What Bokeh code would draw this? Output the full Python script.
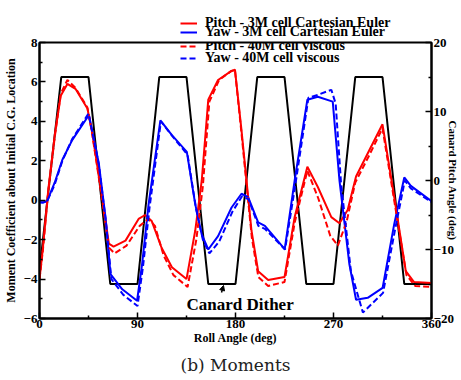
from bokeh.plotting import figure
from bokeh.layouts import column
from bokeh.models import (Range1d, LinearAxis, Legend, LegendItem, Label, Title,
                          FixedTicker, Arrow, NormalHead)
from bokeh.embed import file_html
from bokeh.resources import INLINE

# ---------------- data ----------------
pitch3m_roll = [0, 3, 8, 14, 19.5, 25.6, 33, 44, 48, 57.6, 63.7, 68, 79, 91, 97, 103, 112, 121.6, 135,
                143, 149, 155, 164, 176, 179.5, 185.5, 194.7, 200.8, 210, 225, 234.3, 246, 255.6, 268,
                275.5, 283, 290.7, 303, 315, 325.8, 336.4, 344, 360]
pitch3m_val = [-4.0, -2.5, 0.5, 3.3, 5.3, 5.9, 5.65, 4.65, 3.55, 0.15, -2.2, -2.35, -2.05, -0.95, -0.75,
               -1.05, -2.4, -3.4, -4.0, -1.55, 1.0, 5.1, 6.1, 6.55, 6.62, 3.56, -1.55, -3.6, -4.05, -3.9,
               -0.86, 1.7, 0.67, -0.86, -1.17, -0.5, 1.2, 2.55, 3.85, 0.15, -3.6, -4.15, -4.2]

pitch40m_roll = [0, 3, 8, 14, 19.5, 25.6, 33, 44, 48, 57.6, 63.7, 69, 80, 92, 100, 106, 114, 123, 136,
                 144, 150, 156, 165, 176, 179.5, 185.5, 195, 201, 210, 225, 234.5, 246, 256, 267, 274,
                 282, 290, 303, 315, 326, 337, 345, 360]
pitch40m_val = [-4.0, -2.6, 0.4, 3.2, 5.4, 6.1, 5.7, 4.7, 3.5, 0.0, -2.4, -2.7, -2.3, -1.3, -0.95, -1.3,
                -2.8, -3.8, -4.4, -2.0, 0.7, 5.0, 6.1, 6.55, 6.6, 3.4, -1.9, -3.9, -4.35, -4.15, -1.1,
                1.5, 0.1, -1.8, -2.3, -1.1, 0.9, 2.3, 3.65, -0.1, -3.8, -4.35, -4.4]

yaw3m_roll = [0, 3, 7, 14, 21, 30, 45.4, 54.5, 60.6, 65.2, 76, 89.6, 94.2, 100.2, 111, 121.6, 135.3, 143,
              149, 155, 164, 176.4, 185.5, 191.7, 200.8, 207, 225.2, 234.3, 246, 255.6, 269.3, 275.5,
              284.6, 290.7, 301.4, 315.1, 325.8, 335, 341, 360]
yaw3m_val = [-0.1, -0.12, -0.05, 0.9, 2.05, 3.05, 4.32, 1.86, -0.86, -3.75, -4.52, -5.1, -3.25, -0.2,
             4.05, 3.3, 2.45, -0.2, -1.74, -2.5, -1.82, -0.37, 0.33, 0.15, -1.12, -1.3, -2.48, 0.99,
             5.1, 5.25, 5.0, 0.99, -3.25, -5.05, -4.95, -4.45, -1.2, 1.16, 0.73, -0.05]

yaw40m_roll = [0, 3, 7, 14, 21, 30, 45, 54.5, 61, 66, 77, 90, 95, 101, 111.5, 122, 136, 144, 150,
               156, 165, 177, 186, 192, 201, 207, 225.5, 235, 247, 256, 268, 272, 277, 286, 297,
               315.5, 326.5, 335.5, 341, 360]
yaw40m_val = [-0.1, -0.12, -0.05, 0.8, 2.0, 3.1, 4.4, 1.8, -1.1, -4.0, -4.8, -5.37, -3.4, -0.4, 4.0,
              3.25, 2.3, -0.5, -2.0, -2.7, -2.1, -0.6, 0.2, 0.05, -1.3, -1.45, -2.5, 0.8, 5.2, 5.35,
              5.6, 4.9, 0.8, -3.6, -5.7, -4.7, -1.5, 1.0, 0.6, -0.1]

canard_roll = [0, 20, 45, 65, 90, 110, 135, 155, 180, 200, 225, 245, 270, 290, 315, 335, 360]
canard_deg = [-13, 15, 15, -15, -15, 15, 15, -15, -15, 15, 15, -15, -15, 15, 15, -15, -15]

x_ticks = [0, 90, 180, 270, 360]
y_ticks = [-6, -4, -2, 0, 2, 4, 6, 8]
y2_ticks = [-20, -10, 0, 10, 20]

FONT = "Liberation Serif"
RED = "#ff0000"
BLUE = "#0000ff"
HEAD_H = 37

p = figure(width=461, height=380 - HEAD_H, output_backend="svg", toolbar_location=None,
           x_range=Range1d(0, 360), y_range=Range1d(-6, 8),
           min_border_left=37, min_border_right=30, min_border_top=42 - HEAD_H,
           min_border_bottom=62)
p.extra_y_ranges = {"canard": Range1d(-20, 20)}
p.grid.visible = False
p.outline_line_color = "black"
p.outline_line_width = 2
p.background_fill_color = "white"
p.border_fill_color = "white"

def style_axis(ax, ticks, minor):
    ax.ticker = FixedTicker(ticks=ticks, minor_ticks=minor)
    ax.major_tick_in = 6
    ax.major_tick_out = 0
    ax.minor_tick_in = 3
    ax.minor_tick_out = 0
    ax.major_tick_line_width = 1.5
    ax.minor_tick_line_width = 1.5
    ax.axis_line_width = 2
    ax.major_label_text_font = FONT
    ax.major_label_text_font_style = "bold"
    ax.major_label_text_font_size = "13px"
    ax.major_label_text_color = "black"
    ax.axis_label_text_font = FONT
    ax.axis_label_text_font_style = "bold"
    ax.axis_label_text_font_size = "12px"
    ax.axis_label_text_color = "black"

xa = p.xaxis[0]
style_axis(xa, x_ticks, [45, 135, 225, 315])
xa.axis_label = "Roll Angle (deg)"
xa.major_label_standoff = 1
xa.axis_label_standoff = 0

ya = p.yaxis[0]
style_axis(ya, y_ticks, [-5, -3, -1, 1, 3, 5, 7])
ya.axis_label = "Moment Coefficient about Initial C.G. Location"
ya.major_label_standoff = 2
ya.axis_label_standoff = 3

y2 = LinearAxis(y_range_name="canard")
style_axis(y2, y2_ticks, [-15, -5, 5, 15])
y2.major_label_standoff = 2
y2.axis_label = "Canard Pitch Angle (deg)"
y2.axis_label_text_font_size = "11px"
y2.axis_label_standoff = -10
p.add_layout(y2, "right")

# lines
r_c = p.line(canard_roll, canard_deg, y_range_name="canard", line_color="black", line_width=2)
r1 = p.line(pitch3m_roll, pitch3m_val, line_color=RED, line_width=2)
r2 = p.line(yaw3m_roll, yaw3m_val, line_color=BLUE, line_width=2)
r3 = p.line(pitch40m_roll, pitch40m_val, line_color=RED, line_width=2, line_dash="6 3")
r4 = p.line(yaw40m_roll, yaw40m_val, line_color=BLUE, line_width=2, line_dash="6 3")

def make_legend(label, renderer, loc):
    lg = Legend(items=[LegendItem(label=label, renderers=[renderer])], location=loc)
    lg.background_fill_alpha = 0
    lg.border_line_alpha = 0
    lg.padding = 0
    lg.margin = 0
    lg.spacing = 0
    lg.glyph_width = 17
    lg.glyph_height = 10
    lg.label_height = 10
    lg.label_standoff = 8
    lg.label_text_font = FONT
    lg.label_text_font_style = "bold"
    lg.label_text_font_size = "14px"
    lg.label_text_color = "black"
    return lg

p.add_layout(make_legend("Pitch - 40M cell viscous", r3, (141, 264)), "center")
p.add_layout(make_legend("Yaw - 40M cell viscous", r4, (141, 252)), "center")

# header strip holding the first two legend entries (above the plot frame)
head = figure(width=461, height=HEAD_H, output_backend="svg", toolbar_location=None,
              x_range=Range1d(0, 1), y_range=Range1d(0, 1), min_border=0)
head.axis.visible = False
head.grid.visible = False
head.outline_line_color = None
head.background_fill_alpha = 0
head.border_fill_alpha = 0
h1 = head.line([-2, -1], [-2, -1], line_color=RED, line_width=2)
h2 = head.line([-2, -1], [-2, -1], line_color=BLUE, line_width=2)
head.add_layout(make_legend("Pitch - 3M cell Cartesian Euler", h1, (141, 6.5)), "center")
head.add_layout(make_legend("Yaw - 3M cell Cartesian Euler", h2, (141, -3)), "center")

# annotation
p.add_layout(Label(x=147, y=14, x_units="screen", y_units="screen",
                   text="Canard Dither", text_font=FONT, text_font_style="bold",
                   text_font_size="17px", text_align="left", text_baseline="alphabetic",
                   text_color="black"))
p.add_layout(Arrow(end=NormalHead(size=5, fill_color="black", line_color="black"),
                   x_start=182, y_start=26, x_end=184, y_end=33,
                   start_units="screen", end_units="screen",
                   line_width=1.5, line_color="black"))

# caption
cap = Title(text="(b) Moments", align="center", text_font="DejaVu Serif",
            text_font_size="17px", text_font_style="normal", text_color="#222222",
            standoff=10)
p.add_layout(cap, "below")

layout = column(head, p, spacing=0)
open("out.html", "w").write(file_html(layout, INLINE))
